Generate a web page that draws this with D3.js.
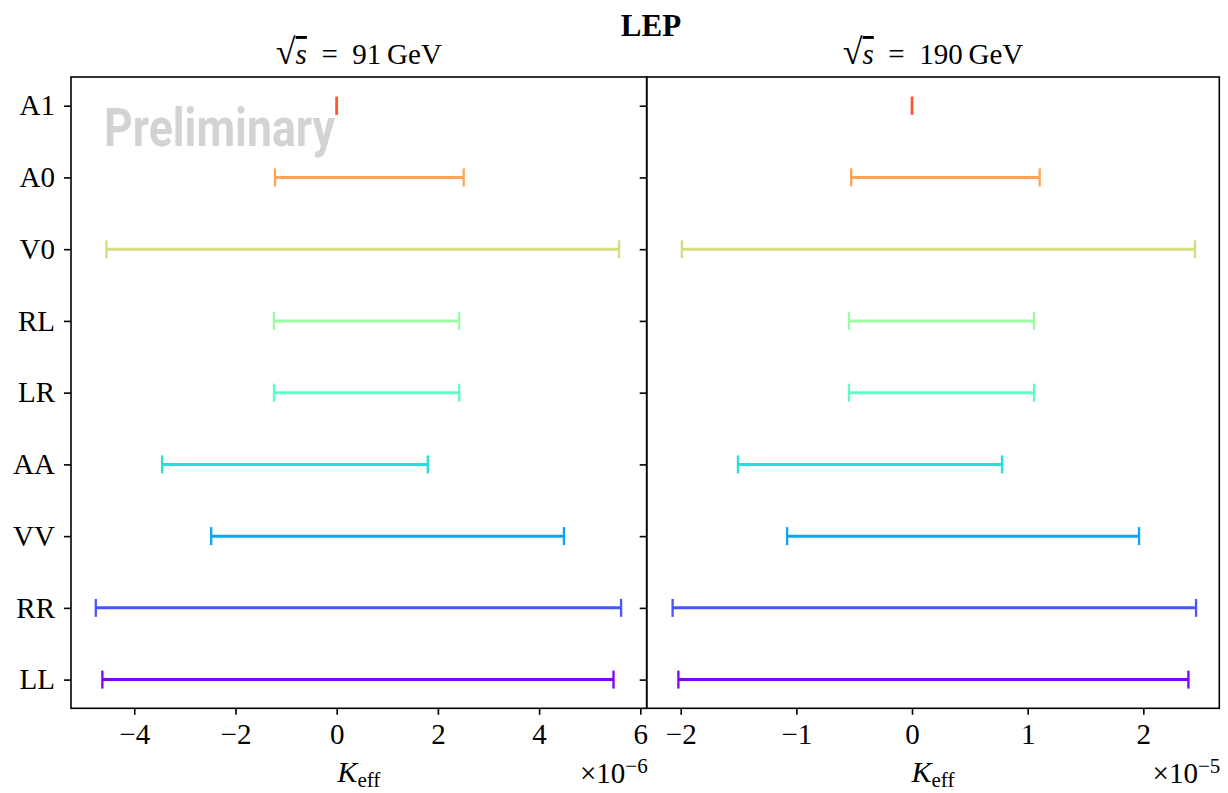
<!DOCTYPE html>
<html>
<head>
<meta charset="utf-8">
<script src="https://cdn.jsdelivr.net/npm/d3@7"></script>
<style>
  body { margin: 0; background: #fff; }
  text { font-family: "Liberation Serif", serif; }
</style>
</head>
<body>
<svg id="chart" width="1228" height="793"></svg>
<script>
// categories, bottom to top
const categories = ["LL", "RR", "VV", "AA", "LR", "RL", "V0", "A0", "A1"];

// sqrt(s) = 91 GeV, units of 1e-6
const lo91 = [-4.63, -4.76, -2.48, -3.45, -1.24, -1.24, -4.55, -1.22, -0.005];
const hi91 = [5.47, 5.62, 4.49, 1.80, 2.42, 2.42, 5.58, 2.51, 0.005];
const ticks91 = [-4, -2, 0, 2, 4, 6];

// sqrt(s) = 190 GeV, units of 1e-5
const lo190 = [-2.02, -2.07, -1.08, -1.505, -0.545, -0.545, -1.99, -0.526, -0.002];
const hi190 = [2.39, 2.456, 1.963, 0.778, 1.055, 1.055, 2.447, 1.104, 0.002];
const ticks190 = [-2, -1, 0, 1, 2];

// matplotlib "rainbow" colormap sampled at i/9
function rainbow(t) {
	const r = Math.min(1, Math.abs(2 * t - 0.5));
	const g = Math.sin(Math.PI * t);
	const b = Math.cos(Math.PI / 2 * t);
	return d3.rgb(r * 255, g * 255, b * 255).formatHex();
}
const colors = categories.map((c, i) => rainbow(i / 9));

const svg = d3.select("#chart");
const axTop = 77, axBottom = 708.3;

const y = d3.scaleLinear()
	.domain([-0.4, categories.length - 1 + 0.4])
	.range([axBottom, axTop]);

const fmt = d => d < 0 ? "\u2212" + Math.abs(d) : "" + d;

function panel(opts) {
	const x = d3.scaleLinear().domain(opts.domain).range([opts.x0, opts.x1]);
	const g = svg.append("g");

	// error bars
	const bars = g.selectAll("g.bar")
		.data(categories.map((c, i) => ({ c, i, lo: opts.lo[i], hi: opts.hi[i] })))
		.enter().append("g").attr("class", "bar")
		.attr("stroke", d => colors[d.i]);
	bars.append("line")
		.attr("x1", d => x(d.lo)).attr("x2", d => x(d.hi))
		.attr("y1", d => y(d.i)).attr("y2", d => y(d.i))
		.attr("stroke-width", 3);
	bars.selectAll("line.cap")
		.data(d => [{ v: d.lo, i: d.i }, { v: d.hi, i: d.i }])
		.enter().append("line").attr("class", "cap")
		.attr("x1", d => x(d.v)).attr("x2", d => x(d.v))
		.attr("y1", d => y(d.i) - 9).attr("y2", d => y(d.i) + 9)
		.attr("stroke-width", 2.3);

	// x axis
	const xa = g.append("g")
		.attr("transform", `translate(0,${axBottom})`)
		.call(d3.axisBottom(x).tickValues(opts.ticks).tickSize(6.5).tickPadding(9).tickFormat(fmt));
	xa.select(".domain").remove();
	xa.selectAll(".tick line").attr("stroke", "#000").attr("stroke-width", 1.6);
	xa.selectAll(".tick text")
		.attr("font-size", 29).attr("fill", "#000")
		.style("font-family", "'Liberation Serif', serif");

	// y axis ticks
	const ya = g.append("g")
		.attr("transform", `translate(${opts.x0},0)`)
		.call(d3.axisLeft(y).tickValues(d3.range(categories.length)).tickSize(7).tickPadding(9)
			.tickFormat(i => opts.labels ? categories[i] : ""));
	ya.select(".domain").remove();
	ya.selectAll(".tick line").attr("stroke", "#000").attr("stroke-width", 1.6);
	ya.selectAll(".tick text")
		.attr("font-size", 29).attr("fill", "#000")
		.style("font-family", "'Liberation Serif', serif");

	// frame
	g.append("rect")
		.attr("x", opts.x0).attr("y", axTop)
		.attr("width", opts.x1 - opts.x0).attr("height", axBottom - axTop)
		.attr("fill", "none").attr("stroke", "#000").attr("stroke-width", 1.6);

	// title: sqrt(s) = ... GeV
	const cx = (opts.x0 + opts.x1) / 2;
	const t = g.append("text")
		.attr("x", cx).attr("y", 64)
		.attr("text-anchor", "middle")
		.attr("font-size", 29);
	t.append("tspan").attr("font-size", 36).text("\u221A");
	t.append("tspan").attr("font-style", "italic")
		.style("text-decoration", "overline").text("s");
	t.append("tspan").text("\u2002=\u2002" + opts.energy + "\u2009GeV");

	// x label
	const xl = g.append("text")
		.attr("x", cx).attr("y", 782)
		.attr("text-anchor", "middle")
		.attr("font-size", 30);
	xl.append("tspan").attr("font-style", "italic").text("K");
	xl.append("tspan").attr("font-size", 21).attr("dy", 5).text("eff");

	// offset text
	const ot = g.append("text")
		.attr("x", opts.x1 + 1).attr("y", 783)
		.attr("text-anchor", "end")
		.attr("font-size", 29);
	ot.append("tspan").text("\u00D710");
	ot.append("tspan").attr("font-size", 21).attr("dy", -10).text("\u2212" + opts.exp);

	return x;
}

panel({ x0: 71, x1: 646.7, domain: [-5.25, 6.126], lo: lo91, hi: hi91,
	ticks: ticks91, labels: true, energy: "91", exp: "6" });
panel({ x0: 646.7, x1: 1219.3, domain: [-2.294, 2.657], lo: lo190, hi: hi190,
	ticks: ticks190, labels: false, energy: "190", exp: "5" });

// figure title
svg.append("text")
	.attr("x", 651).attr("y", 36)
	.attr("text-anchor", "middle")
	.attr("font-size", 31).attr("font-weight", "bold")
	.text("LEP");

// watermark
svg.append("text")
	.attr("x", 104).attr("y", 146)
	.attr("textLength", 231).attr("lengthAdjust", "spacingAndGlyphs")
	.attr("font-size", 53).attr("font-weight", "bold")
	.attr("fill", "#d3d3d3")
	.style("font-family", "Roboto, sans-serif")
	.text("Preliminary");
</script>
</body>
</html>
